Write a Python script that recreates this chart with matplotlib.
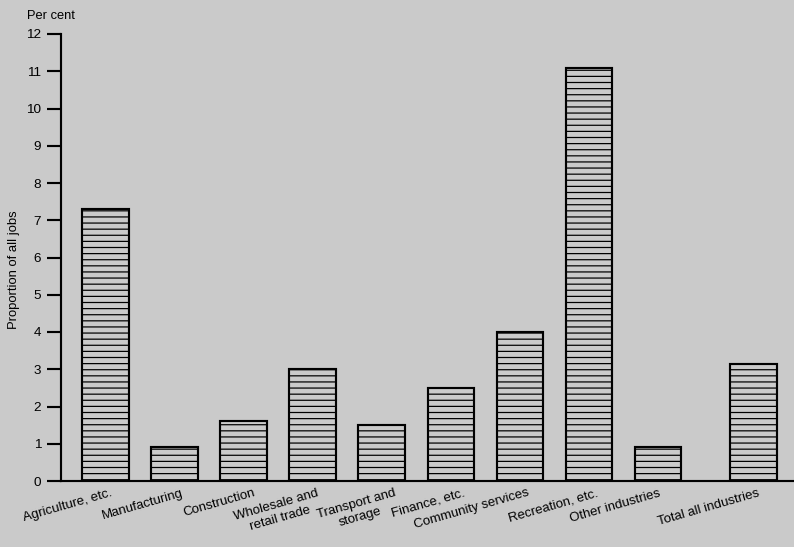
import matplotlib
matplotlib.use('Agg')
import matplotlib.pyplot as plt

# Data
industries = ['Agriculture, etc.', 'Manufacturing', 'Construction',
              'Wholesale and\nretail trade', 'Transport and\nstorage',
              'Finance, etc.', 'Community services', 'Recreation, etc.',
              'Other industries', 'Total all industries']
proportions = [7.3, 0.9, 1.6, 3.0, 1.5, 2.5, 4.0, 11.1, 0.9, 3.15]
positions = [0, 1, 2, 3, 4, 5, 6, 7, 8, 9.38]
y_ticks = list(range(0, 13))

# small horizontal nudges (points) so the labels sit as in the original
label_nudge = [-1.5, -0.5, 1.5, -2, 3.5, 3.5, 0, 0, -4, -2]

bg = '#cacaca'
plt.rcParams['font.family'] = ['Liberation Sans', 'DejaVu Sans']
plt.rcParams['hatch.linewidth'] = 0.8

dpi = 110
fig = plt.figure(figsize=(794 / dpi, 547 / dpi), dpi=dpi, facecolor=bg)
ax = fig.add_axes([61 / 794, 66 / 547, 1 - 61 / 794, (481 - 34) / 547])
ax.set_facecolor(bg)

# Bars with horizontal hatching
ax.bar(positions, proportions, width=0.68, color=bg, edgecolor='black',
       linewidth=1.4, hatch='---', zorder=2)

ax.set_xlim(-0.65, 9.97)
ax.set_ylim(0, 12)
ax.set_yticks(y_ticks)
ax.tick_params(axis='y', direction='out', length=9, width=1.4,
               labelsize=8.8, pad=4)
ax.set_xticks([])

for side in ['top', 'right']:
    ax.spines[side].set_visible(False)
ax.spines['left'].set_linewidth(1.4)
ax.spines['bottom'].set_linewidth(1.4)

# Rotated category labels
for pos, name, dx in zip(positions, industries, label_nudge):
    ax.annotate(name, xy=(pos + 0.1, 0), xycoords=('data', 'axes fraction'),
                xytext=(dx, -4), textcoords='offset points',
                rotation=16, rotation_mode='anchor', ha='right', va='top',
                multialignment='center', fontsize=8.7)

# Axis titles
fig.text(27 / 794, 1 - 16 / 547, 'Per cent', fontsize=8.4,
         ha='left', va='center')
fig.text(14 / 794, 1 - 270 / 547, 'Proportion of all jobs', fontsize=8.5,
         rotation=90, ha='center', va='center')

fig.savefig('out.png', dpi=dpi, facecolor=bg)
